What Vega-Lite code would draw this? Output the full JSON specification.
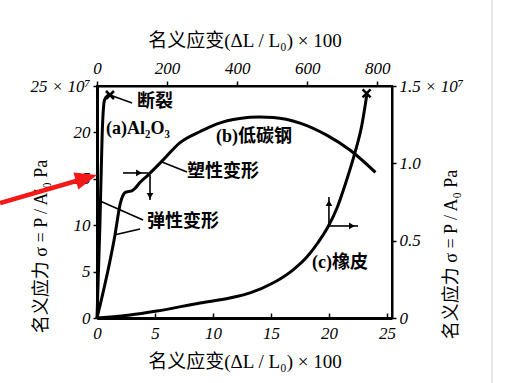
{
  "$schema": "https://vega.github.io/schema/vega-lite/v6.json",
  "width": 295,
  "height": 232,
  "autosize": {"type": "none"},
  "padding": {"left": 97, "top": 86, "right": 118, "bottom": 65},
  "background": "white",
  "config": {
    "view": {"stroke": "black", "strokeWidth": 2},
    "axis": {
      "grid": false,
      "domainColor": "black",
      "tickColor": "black",
      "tickWidth": 1.5,
      "labelColor": "black",
      "labelFont": "Liberation Serif",
      "labelFontStyle": "italic",
      "labelFontSize": 17,
      "titleColor": "black",
      "titleFont": "'Liberation Serif', 'Noto Sans CJK SC'",
      "titleFontSize": 19,
      "titleFontWeight": "normal",
      "labelFlush": false,
      "labelOverlap": false
    }
  },
  "layer": [
    {
      "layer": [
        {
          "data": {"values": [
            {"series": "Al2O3", "i": 0, "x": 0, "y": 0},
            {"series": "Al2O3", "i": 1, "x": 0.25, "y": 10},
            {"series": "Al2O3", "i": 2, "x": 0.45, "y": 20},
            {"series": "Al2O3", "i": 3, "x": 0.55, "y": 22.5},
            {"series": "Al2O3", "i": 4, "x": 0.65, "y": 23.5},
            {"series": "Al2O3", "i": 5, "x": 0.9, "y": 23.95},
            {"series": "Al2O3", "i": 6, "x": 1.12, "y": 24.03},
            {"series": "steel", "i": 0, "x": 0, "y": 0},
            {"series": "steel", "i": 1, "x": 1.55, "y": 8.94},
            {"series": "steel", "i": 2, "x": 2.0, "y": 12.3},
            {"series": "steel", "i": 3, "x": 2.2, "y": 13.1},
            {"series": "steel", "i": 4, "x": 2.4, "y": 13.5},
            {"series": "steel", "i": 5, "x": 2.7, "y": 13.62},
            {"series": "steel", "i": 6, "x": 3.0, "y": 13.7},
            {"series": "steel", "i": 7, "x": 3.3, "y": 14.0},
            {"series": "steel", "i": 8, "x": 3.7, "y": 14.6},
            {"series": "steel", "i": 9, "x": 4.4, "y": 15.4},
            {"series": "steel", "i": 10, "x": 5.6, "y": 16.9},
            {"series": "steel", "i": 11, "x": 7.16, "y": 18.9},
            {"series": "steel", "i": 12, "x": 8.9, "y": 20.1},
            {"series": "steel", "i": 13, "x": 10.3, "y": 20.9},
            {"series": "steel", "i": 14, "x": 12.3, "y": 21.5},
            {"series": "steel", "i": 15, "x": 14.0, "y": 21.65},
            {"series": "steel", "i": 16, "x": 15.2, "y": 21.6},
            {"series": "steel", "i": 17, "x": 17.5, "y": 21.0},
            {"series": "steel", "i": 18, "x": 19.8, "y": 19.7},
            {"series": "steel", "i": 19, "x": 21.8, "y": 18.1},
            {"series": "steel", "i": 20, "x": 24.0, "y": 15.7}
          ]},
          "mark": {"type": "line", "color": "black", "strokeWidth": 3, "interpolate": "monotone"},
          "encoding": {
            "x": {"field": "x", "type": "quantitative",
              "scale": {"domain": [0, 25.43], "nice": false, "zero": false},
              "axis": {"orient": "bottom", "values": [0, 5, 10, 15, 20, 25], "tickSize": -5, "labelPadding": 12,
                "domainWidth": 3, "title": "名义应变(ΔL / L₀) × 100", "titlePadding": 11}},
            "y": {"field": "y", "type": "quantitative",
              "scale": {"domain": [0, 25], "nice": false, "zero": false},
              "axis": {"orient": "left", "values": [0, 5, 10, 15, 20, 25], "tickSize": 4, "labelPadding": 3,
                "labelExpr": "datum.value == 25 ? '25 × 10⁷' : datum.label",
                "domainWidth": 3, "title": "名义应力 σ = P / A′₀  Pa", "titleAngle": 270, "titleFontSize": 18,
                "titleX": -56, "titleY": 160, "titleBaseline": "middle", "titleAlign": "center"}},
            "detail": {"field": "series", "type": "nominal"},
            "order": {"field": "i", "type": "quantitative"}
          }
        },
        {
          "data": {"values": [
            {"what": "断裂 leader", "x": 1.12, "y": 24.03, "x2": 3.02, "y2": 23.17},
            {"what": "塑性变形 leader", "x": 5.6, "y": 16.81, "x2": 7.76, "y2": 15.73},
            {"what": "弹性变形 leader a", "x": 0.26, "y": 12.61, "x2": 3.97, "y2": 10.56},
            {"what": "弹性变形 leader b", "x": 1.47, "y": 8.94, "x2": 3.71, "y2": 9.59},
            {"what": "steel arrow h", "x": 2.24, "y": 15.63, "x2": 4.4, "y2": 15.63},
            {"what": "steel arrow v", "x": 4.57, "y": 15.41, "x2": 4.57, "y2": 12.72}
          ]},
          "mark": {"type": "rule", "color": "black", "strokeWidth": 1.6},
          "encoding": {
            "x": {"field": "x", "type": "quantitative"},
            "y": {"field": "y", "type": "quantitative"},
            "x2": {"field": "x2"},
            "y2": {"field": "y2"}
          }
        },
        {
          "data": {"values": [
            {"x": 3.62, "y": 15.63, "dir": "right"},
            {"x": 4.57, "y": 13.15, "dir": "down"}
          ]},
          "mark": {"type": "point", "filled": true, "color": "black", "size": 45, "opacity": 1},
          "encoding": {
            "x": {"field": "x", "type": "quantitative"},
            "y": {"field": "y", "type": "quantitative"},
            "shape": {"field": "dir", "type": "nominal", "legend": null,
              "scale": {"domain": ["up", "down", "right"], "range": ["triangle-up", "triangle-down", "triangle-right"]}}
          }
        },
        {
          "data": {"values": [{"x": 1.12, "y": 24.03, "what": "Al2O3 fracture"}]},
          "mark": {"type": "point", "shape": "M-1,-1L1,1M-1,1L1,-1", "filled": false, "color": "black", "strokeWidth": 2.5, "size": 64, "opacity": 1},
          "encoding": {
            "x": {"field": "x", "type": "quantitative"},
            "y": {"field": "y", "type": "quantitative"}
          }
        },
        {
          "data": {"values": [
            {"x": 5.0, "y": 23.28, "label": "断裂"},
            {"x": 3.53, "y": 20.37, "label": "(a)Al₂O₃"},
            {"x": 13.53, "y": 19.5, "label": "(b)低碳钢"},
            {"x": 10.86, "y": 15.73, "label": "塑性变形"},
            {"x": 7.41, "y": 10.34, "label": "弹性变形"},
            {"x": 20.95, "y": 5.93, "label": "(c)橡皮"}
          ]},
          "mark": {"type": "text", "font": "'Liberation Serif', 'Noto Sans CJK SC'", "fontSize": 18, "fontWeight": "bold", "color": "black", "align": "center", "baseline": "middle"},
          "encoding": {
            "x": {"field": "x", "type": "quantitative"},
            "y": {"field": "y", "type": "quantitative"},
            "text": {"field": "label"}
          }
        },
        {
          "data": {"values": [{"what": "page edge", "x": 34.05, "y": -7.1, "x2": 34.05, "y2": 34.3}]},
          "mark": {"type": "rule", "color": "#dedede", "strokeWidth": 1.5},
          "encoding": {
            "x": {"field": "x", "type": "quantitative"},
            "y": {"field": "y", "type": "quantitative"},
            "x2": {"field": "x2"},
            "y2": {"field": "y2"}
          }
        },
        {
          "data": {"values": [{"what": "red pointer", "x": -8.36, "y": 12.39, "x2": -0.91, "y2": 15.09}]},
          "mark": {"type": "rule", "color": "#f41818", "strokeWidth": 4.5},
          "encoding": {
            "x": {"field": "x", "type": "quantitative"},
            "y": {"field": "y", "type": "quantitative"},
            "x2": {"field": "x2"},
            "y2": {"field": "y2"}
          }
        },
        {
          "data": {"values": [{"what": "red pointer head", "x": -0.91, "y": 15.09}]},
          "mark": {"type": "point", "shape": "M-1,-0.8L1,0L-1,0.8Z", "filled": true, "color": "#f41818", "size": 484, "angle": 344, "opacity": 1},
          "encoding": {
            "x": {"field": "x", "type": "quantitative"},
            "y": {"field": "y", "type": "quantitative"}
          }
        }
      ]
    },
    {
      "layer": [
        {
          "data": {"values": [
            {"i": 0, "x": 0, "y": 0},
            {"i": 1, "x": 94, "y": 0.019},
            {"i": 2, "x": 171, "y": 0.045},
            {"i": 3, "x": 294, "y": 0.097},
            {"i": 4, "x": 379, "y": 0.129},
            {"i": 5, "x": 437, "y": 0.162},
            {"i": 6, "x": 502, "y": 0.226},
            {"i": 7, "x": 559, "y": 0.31},
            {"i": 8, "x": 599, "y": 0.394},
            {"i": 9, "x": 630, "y": 0.485},
            {"i": 10, "x": 659, "y": 0.588},
            {"i": 11, "x": 685, "y": 0.711},
            {"i": 12, "x": 708, "y": 0.86},
            {"i": 13, "x": 736, "y": 1.067},
            {"i": 14, "x": 756, "y": 1.248},
            {"i": 15, "x": 770, "y": 1.441}
          ]},
          "mark": {"type": "line", "color": "black", "strokeWidth": 3, "interpolate": "monotone"},
          "encoding": {
            "x": {"field": "x", "type": "quantitative",
              "scale": {"domain": [0, 842], "nice": false, "zero": false},
              "axis": {"orient": "top", "values": [0, 200, 400, 600, 800], "tickSize": 5, "labelPadding": 4,
                "domainWidth": 2, "title": "名义应变(ΔL / L₀) × 100", "titlePadding": 9}},
            "y": {"field": "y", "type": "quantitative",
              "scale": {"domain": [0, 1.5], "nice": false, "zero": false},
              "axis": {"orient": "right", "values": [0, 0.5, 1, 1.5], "tickSize": 4, "labelPadding": 3,
                "labelExpr": "datum.value == 1.5 ? '1.5 × 10⁷' : (datum.value == 1 ? '1.0' : (datum.value == 0 ? '0' : datum.label))",
                "domainWidth": 2, "title": "名义应力 σ = P / A₀  Pa", "titleAngle": 270, "titleFontSize": 18,
                "titleX": 59, "titleY": 168, "titleBaseline": "middle", "titleAlign": "center"}},
            "order": {"field": "i", "type": "quantitative"}
          }
        },
        {
          "data": {"values": [
            {"what": "rubber arrow v", "x": 662, "y": 0.588, "x2": 662, "y2": 0.782},
            {"what": "rubber arrow h", "x": 665, "y": 0.595, "x2": 745, "y2": 0.595}
          ]},
          "mark": {"type": "rule", "color": "black", "strokeWidth": 1.6},
          "encoding": {
            "x": {"field": "x", "type": "quantitative"},
            "y": {"field": "y", "type": "quantitative"},
            "x2": {"field": "x2"},
            "y2": {"field": "y2"}
          }
        },
        {
          "data": {"values": [
            {"x": 662, "y": 0.743, "dir": "up"},
            {"x": 727.5, "y": 0.595, "dir": "right"}
          ]},
          "mark": {"type": "point", "filled": true, "color": "black", "size": 45, "opacity": 1},
          "encoding": {
            "x": {"field": "x", "type": "quantitative"},
            "y": {"field": "y", "type": "quantitative"},
            "shape": {"field": "dir", "type": "nominal", "legend": null,
              "scale": {"domain": ["up", "down", "right"], "range": ["triangle-up", "triangle-down", "triangle-right"]}}
          }
        },
        {
          "data": {"values": [{"x": 769.5, "y": 1.452, "what": "rubber fracture"}]},
          "mark": {"type": "point", "shape": "M-1,-1L1,1M-1,1L1,-1", "filled": false, "color": "black", "strokeWidth": 2.5, "size": 64, "opacity": 1},
          "encoding": {
            "x": {"field": "x", "type": "quantitative"},
            "y": {"field": "y", "type": "quantitative"}
          }
        }
      ]
    }
  ],
  "resolve": {
    "scale": {"x": "independent", "y": "independent"},
    "axis": {"x": "independent", "y": "independent"}
  }
}
